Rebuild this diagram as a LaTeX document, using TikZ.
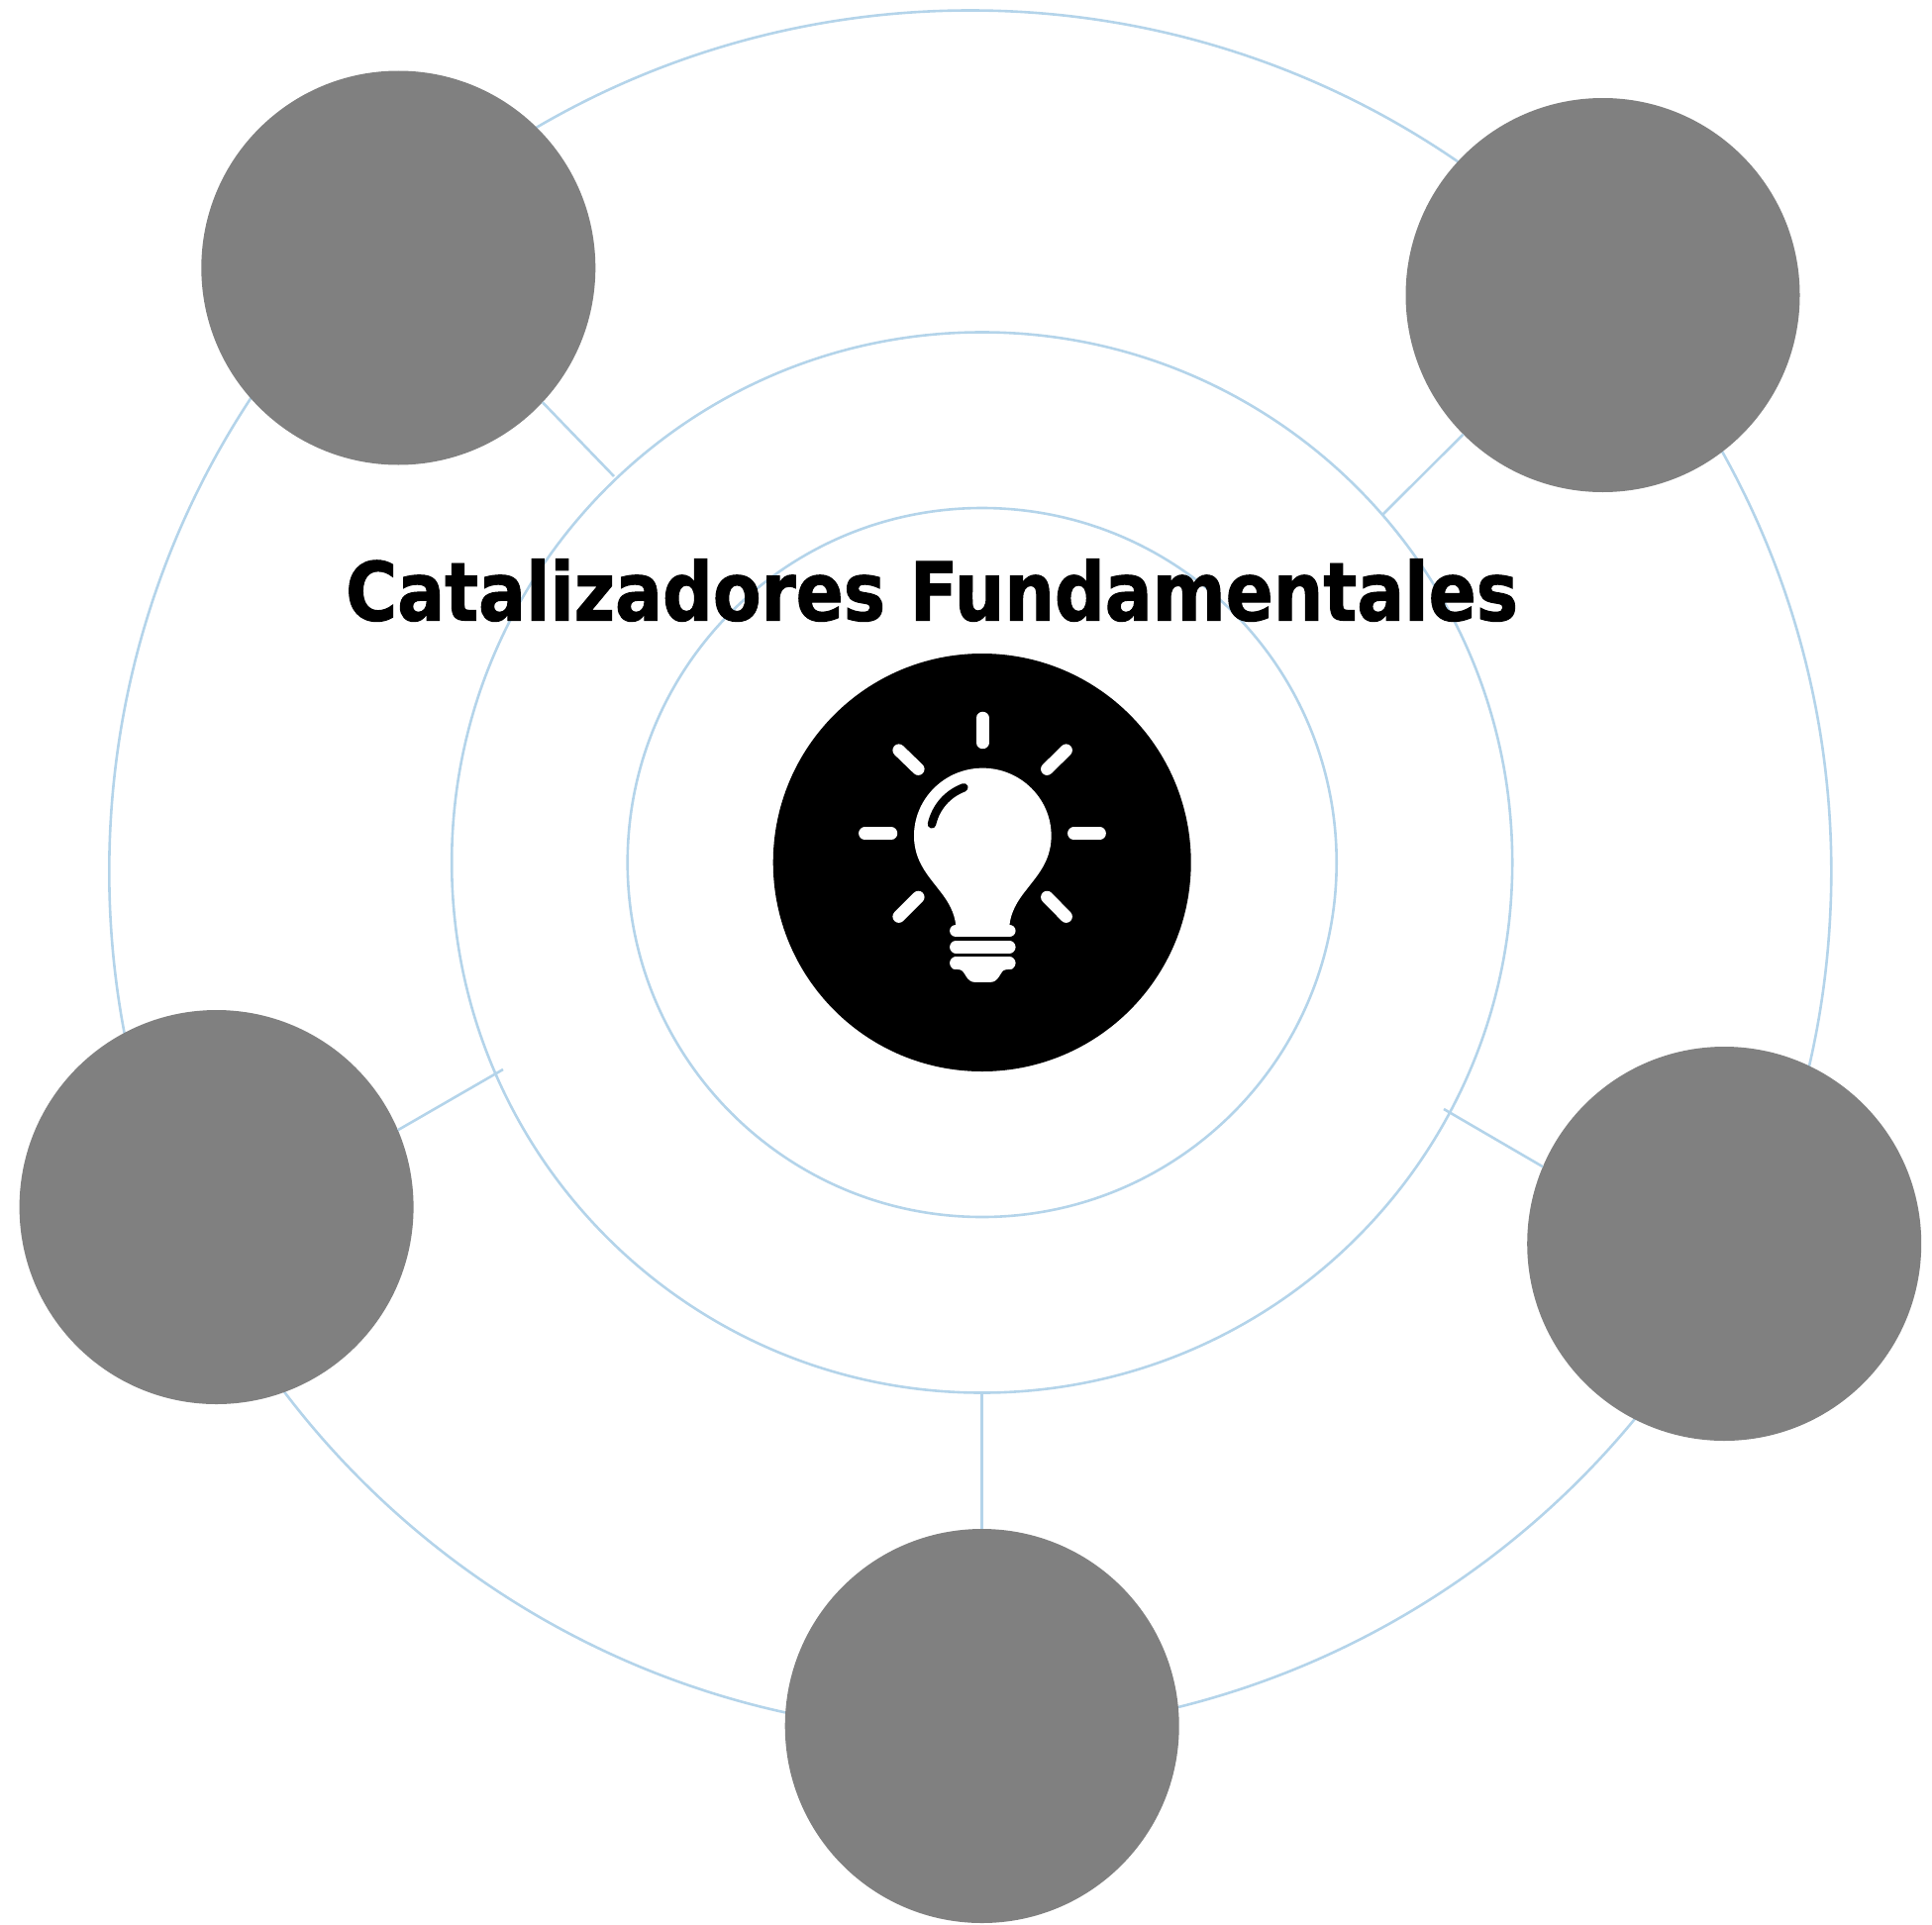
\documentclass[tikz,border=0pt]{standalone}
\usepackage{fontspec}
\setmainfont{DejaVu Sans}
\newfontfamily\titlefont[FakeStretch=0.866,FakeBold=1.2]{DejaVu Sans Bold}
\definecolor{ringblue}{HTML}{B4D4EA}
\usetikzlibrary{positioning}

\begin{document}
\begin{tikzpicture}[x=1pt,y=-1pt,
  ring/.style={circle,draw=ringblue,line width=2.6pt,inner sep=0pt,outer sep=0pt},
  hub/.style={circle,fill=black!50,minimum size=398pt,inner sep=0pt,outer sep=0pt},
  spoke/.style={draw=ringblue,line width=2.6pt},
  ray/.style={white,line width=12.5pt,line cap=round}]
  \useasboundingbox (0,0) rectangle (1951,1943);
  % rings
  \node[ring,minimum size=1739pt] (outer) at (979.8,880) {};
  \node[ring,minimum size=1071pt] (middle) at (991.7,871) {};
  \node[ring,minimum size=716pt] (inner) at (991.7,871) {};

  % free ends of the spokes
  \coordinate (e1) at (620,481);
  \coordinate (e2) at (1396,520);
  \coordinate (e3) at (508,1080);
  \coordinate (e4) at (1458,1120);
  \coordinate (e5) at (991.7,1406);

  % grey circles
  \foreach \nm/\xx/\yy in {hubA/402.3/270.5,hubB/1618.5/298,hubC/218.6/1219,
                           hubD/1741.2/1256,hubE/991.7/1743}
  {
    \node[hub] (\nm) at (\xx,\yy) {};
  }
  \draw[spoke] (hubA.-43.5) -- (e1);
  \draw[spoke] (hubB) -- (e2);
  \draw[spoke] (hubC.23.3) -- (e3);
  \draw[spoke] (hubD.157) -- (e4);
  \draw[spoke] (hubE.north) -- (e5);

  % centre with the bulb
  \node[circle,fill=black,minimum size=422pt,inner sep=0pt,outer sep=0pt] (core) at (991.7,871) {};
  \begin{scope}[shift={(760,640)},x=0.3333pt,y=-0.3333pt]
    \foreach \xa/\ya/\xb/\yb in {697/255/697/330,443/353/502/410,950/353/892/410,
                                 340/605/420/605,973/605/1052/605,
                                 502/798/443/857,892/798/950/857}
    {
      \draw[ray] (\xa,\ya) -- (\xb,\yb);
    }
    \fill[white] (697,407) .. controls (812,407) and (905,500) .. (905,612)
      .. controls (905,690) and (860,735) .. (830,775)
      .. controls (800,812) and (782,845) .. (778,885) -- (616,885)
      .. controls (612,845) and (594,812) .. (564,775)
      .. controls (534,735) and (489,690) .. (489,612)
      .. controls (489,500) and (582,407) .. (697,407) -- cycle;
    \draw[ray] (616,900) -- (778,900);
    \draw[ray] (616,949) -- (778,949);
    \draw[ray] (616,998) -- (778,998);
    \fill[white] (606,1010) -- (606,1015) -- (628,1018) .. controls (645,1020) and (645,1056) .. (675,1056) -- (719,1056)
      .. controls (749,1056) and (749,1020) .. (766,1018) -- (788,1015) -- (788,1010) -- cycle;
    \draw[black,line width=8.5pt,line cap=round] (543,577) .. controls (555,525) and (590,485) .. (640,466);
  \end{scope}

  \node[font=\titlefont\fontsize{82}{82}\selectfont,inner sep=0pt] (title) at (941,596) {Catalizadores Fundamentales};
\end{tikzpicture}
\end{document}
